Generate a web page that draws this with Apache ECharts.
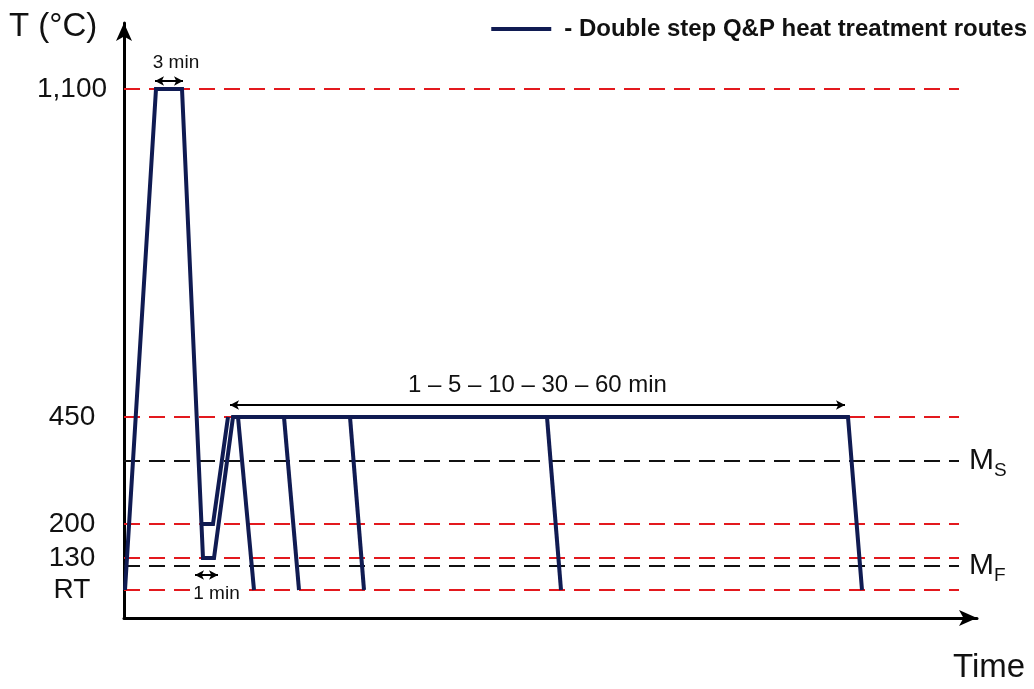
<!DOCTYPE html>
<html>
<head>
<meta charset="utf-8">
<script src="https://cdn.jsdelivr.net/npm/echarts@6/dist/echarts.min.js"></script>
<style>html,body{margin:0;padding:0;background:#fff}#c{width:1034px;height:689px}</style>
</head>
<body>
<div id="c"></div>
<script>
// Schematic diagram: time and temperature are in schematic units
const levelLabels = ['RT', '130', '200', '450', '1,100'];
const levelValues = [28, 60, 94, 201, 529];
const msLevel = 157;
const mfLevel = 52.5;
const seriesName = '- Double step Q&P heat treatment routes';

// main route: heating, austenitising hold, quench to 130, partition at 450 for 60 min, cool to RT
const mainTimes = [1, 32, 58, 79, 90, 109, 724, 738];
const mainLevels = [28, 529, 529, 60, 60, 201, 201, 28];
// branch quenched to 200
const branchTimes = [77.5, 89, 104];
const branchLevels = [94, 94, 201];
// shorter partitioning times: 1, 5, 10, 30 min (drop from 450 to RT)
const dropStart = [114, 160, 226, 423];
const dropEnd = [130, 175, 240, 437];

const refEnd = 835;
const arrow3 = [31, 59, 537];
const arrow1 = [71, 94, 43];
const arrowHold = [106, 721, 213];

const FONT = "'Liberation Sans', Arial, sans-serif";
const NAVY = '#101b52';
const RED = '#e3191e';
const DARK = '#111';

const lineStyle = { color: NAVY, width: 4, join: 'miter', cap: 'butt' };
function pairs(xs, ys) { return xs.map((x, i) => [x, ys[i]]); }

function subLabel(sub) {
  return {
    show: true, position: 'end', distance: 10, formatter: '{m|M}{s|' + sub + '}',
    rich: {
      m: { fontSize: 30, fontFamily: FONT, color: DARK },
      s: { fontSize: 19, fontFamily: FONT, color: DARK, padding: [20, 0, 0, 0] }
    }
  };
}

const series = [];
series.push({
  name: seriesName, type: 'line', data: pairs(mainTimes, mainLevels), symbol: 'none',
  lineStyle: lineStyle, color: NAVY, z: 5, animation: false,
  markLine: {
    silent: true, symbol: 'none', animation: false,
    data: levelValues.map(v => [
      { coord: [0, v], lineStyle: { color: RED, width: 2.2, type: [16, 9] }, label: { show: false } },
      { coord: [refEnd, v] }
    ]).concat([
      [{ coord: [0, msLevel], lineStyle: { color: DARK, width: 2, type: [16, 9] }, label: subLabel('S') },
       { coord: [refEnd, msLevel] }],
      [{ coord: [0, mfLevel], lineStyle: { color: DARK, width: 2, type: [16, 9] }, label: subLabel('F') },
       { coord: [refEnd, mfLevel] }]
    ])
  }
});
series.push({
  name: seriesName, type: 'line', data: pairs(branchTimes, branchLevels), symbol: 'none',
  lineStyle: lineStyle, color: NAVY, z: 5, animation: false
});
dropStart.forEach((t, i) => {
  series.push({
    name: seriesName, type: 'line', data: [[t, levelValues[3]], [dropEnd[i], levelValues[0]]],
    symbol: 'none', lineStyle: lineStyle, color: NAVY, z: 5, animation: false
  });
});
// annotation arrows
const annLabel = { show: true, color: DARK, fontFamily: FONT, fontSize: 19 };
series.push({
  type: 'line', data: [], animation: false, z: 6,
  markLine: {
    silent: true, animation: false, symbol: ['arrow', 'arrow'], symbolSize: [7, 9],
    lineStyle: { color: '#000', width: 2, type: 'solid' },
    data: [
      [{ coord: [arrow3[0], arrow3[2]], label: Object.assign({}, annLabel, { position: 'insideMiddleTop', distance: 9, offset: [7, 0], formatter: '3 min' }) },
       { coord: [arrow3[1], arrow3[2]] }],
      [{ coord: [arrow1[0], arrow1[2]], label: Object.assign({}, annLabel, { position: 'insideMiddleBottom', distance: 9, offset: [10, 0], formatter: '1 min', backgroundColor: '#fff', padding: [0, 2, 0, 2] }) },
       { coord: [arrow1[1], arrow1[2]] }],
      [{ coord: [arrowHold[0], arrowHold[2]], label: Object.assign({}, annLabel, { fontSize: 24, position: 'insideMiddleTop', distance: 8, formatter: '1 – 5 – 10 – 30 – 60 min' }) },
       { coord: [arrowHold[1], arrowHold[2]] }]
    ]
  }
});

const chart = echarts.init(document.getElementById('c'), null, { renderer: 'canvas' });
chart.setOption({
  animation: false,
  backgroundColor: '#fff',
  textStyle: { fontFamily: FONT },
  grid: { left: 124, right: 57, top: 23, bottom: 71 },
  legend: {
    top: 12, right: 2, itemWidth: 60, itemHeight: 4, selectedMode: false,
    data: [{ name: seriesName, icon: 'rect', itemStyle: { color: NAVY } }],
    textStyle: { fontFamily: FONT, fontSize: 24, fontWeight: 'bold', color: DARK, padding: [0, 0, 0, 8] }
  },
  xAxis: {
    type: 'value', min: 0, max: 853,
    axisLine: { show: true, lineStyle: { color: '#000', width: 3 }, symbol: ['none', 'arrow'], symbolSize: [12, 18] },
    axisTick: { show: false }, axisLabel: { show: false }, splitLine: { show: false }
  },
  yAxis: {
    type: 'value', min: 0, max: 595,
    axisLine: { show: true, lineStyle: { color: '#000', width: 3 }, symbol: ['none', 'arrow'], symbolSize: [12, 18] },
    axisTick: { show: false }, splitLine: { show: false },
    axisLabel: {
      customValues: levelValues, align: 'center', margin: 52,
      fontSize: 28, color: DARK, fontFamily: FONT,
      formatter: v => { const i = levelValues.indexOf(v); return i >= 0 ? levelLabels[i] : ''; }
    }
  },
  graphic: [
    { type: 'text', left: 9, top: 10, style: { text: 'T (°C)', fontSize: 33, fontFamily: FONT, fill: DARK } },
    { type: 'text', left: 953, top: 651, style: { text: 'Time', fontSize: 33, fontFamily: FONT, fill: DARK } }
  ],
  series: series
});
</script>
</body>
</html>
